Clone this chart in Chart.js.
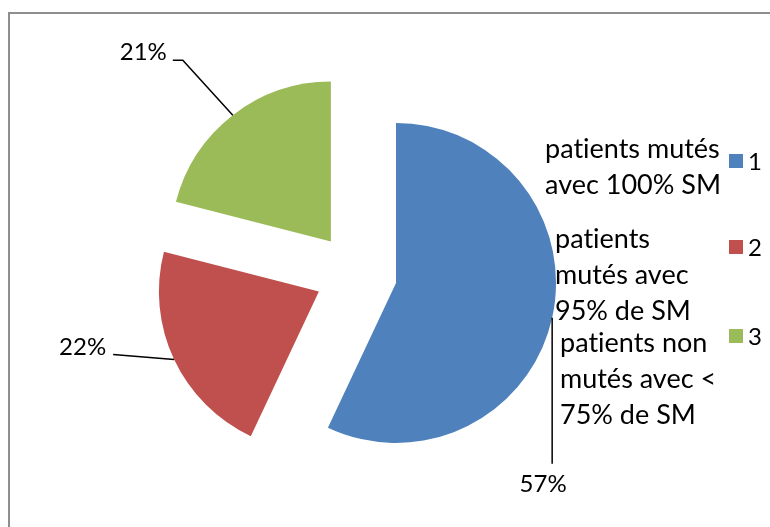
<!DOCTYPE html>
<html>
<head>
<meta charset="utf-8">
<script src="https://cdn.jsdelivr.net/npm/chart.js@4.4.0/dist/chart.umd.min.js"></script>
<style>
  html, body { margin: 0; padding: 0; background: #fff; }
  #wrap { position: relative; width: 770px; height: 527px; overflow: hidden; font-family: Lato, "Open Sans", sans-serif; font-variant-ligatures: none; }
  #frame { position: absolute; left: 8px; top: 12px; right: -10px; bottom: -10px; border-left: 2px solid #8e8e8e; border-top: 2px solid #8e8e8e; }
  #pie { position: absolute; left: 0; top: 0; }
  .note { position: absolute; font-size: 27px; line-height: 36px; color: #000; white-space: nowrap; }
  .leg { position: absolute; font-size: 24px; color: #000; }
  .leg span { position: absolute; left: 0; top: 0; width: 14px; height: 14px; }
  .leg b { position: absolute; left: 19px; top: -8px; font-weight: normal; }
</style>
</head>
<body>
<div id="wrap">
  <div id="frame"></div>
  <canvas id="pie" width="770" height="527"></canvas>
</div>
<script>
// données du graphique
const categories = ['1', '2', '3'];
const shares = [57, 22, 21];
const descriptions = [
  ['patients mutés', 'avec 100% SM'],
  ['patients', 'mutés avec', '95% de SM'],
  ['patients non', 'mutés avec <', '75% de SM']
];

const colors = ['#4F81BD', '#C0504D', '#9BBB59'];
// éclatement des parts (px), appliqué au dessin sans agrandir le rayon
const shifts = [41, 41, 41];

// positions des zones de texte et de la légende
const notePos = [[545, 130], [555, 220], [560, 324]];
const legendTop = [154, 240, 329];

// lignes de rappel : points relatifs au point d'ancrage sur l'arc, puis position du texte
const leaders = [
  { pts: [[0, 0], [0, 146]], text: [-9, 174], align: 'center' },
  { pts: [[0, 0], [-61, -5]], text: [-68, -5], align: 'right' },
  { pts: [[0, 0], [-50, -55], [-60, -55]], text: [-66, -55], align: 'right' }
];

// décale chaque part le long de sa bissectrice
const explode = {
  id: 'explode',
  afterDatasetUpdate(chart, args) {
    args.meta.data.forEach((arc, i) => {
      if (arc.$exploded) return;
      const base = arc.draw;
      arc.draw = function (ctx, area) {
        const mid = (this.startAngle + this.endAngle) / 2;
        ctx.save();
        ctx.translate(Math.cos(mid) * shifts[i], Math.sin(mid) * shifts[i]);
        base.call(this, ctx, area);
        ctx.restore();
      };
      arc.$exploded = true;
    });
  }
};

const pctLabels = {
  id: 'pctLabels',
  afterDatasetsDraw(chart) {
    const ctx = chart.ctx;
    const meta = chart.getDatasetMeta(0);
    meta.data.forEach((arc, i) => {
      const p = arc.getProps(['x', 'y', 'startAngle', 'endAngle', 'outerRadius'], true);
      const mid = (p.startAngle + p.endAngle) / 2;
      const r = p.outerRadius + shifts[i];
      const ax = p.x + Math.cos(mid) * r;
      const ay = p.y + Math.sin(mid) * r;
      const l = leaders[i];
      ctx.save();
      ctx.strokeStyle = '#000';
      ctx.lineWidth = 1.5;
      ctx.beginPath();
      l.pts.forEach((pt, k) => {
        if (k === 0) ctx.moveTo(ax + pt[0], ay + pt[1]);
        else ctx.lineTo(ax + pt[0], ay + pt[1]);
      });
      ctx.stroke();
      ctx.fillStyle = '#000';
      ctx.font = '24px Lato, "Open Sans", sans-serif';
      ctx.textAlign = l.align;
      ctx.textBaseline = 'alphabetic';
      ctx.fillText(shares[i] + '%', ax + l.text[0], ay + l.text[1]);
      ctx.restore();
    });
  }
};

new Chart(document.getElementById('pie'), {
  type: 'pie',
  data: {
    labels: categories,
    datasets: [{
      data: shares,
      backgroundColor: colors,
      borderWidth: 0,
      offset: 0,
      hoverOffset: 0
    }]
  },
  options: {
    responsive: false,
    animation: false,
    layout: { padding: { top: 114, bottom: 93, left: 196, right: 254 } },
    plugins: {
      legend: { display: false },
      tooltip: { enabled: false }
    }
  },
  plugins: [explode, pctLabels]
});

// zones de texte et légende
const wrap = document.getElementById('wrap');
descriptions.forEach((lines, i) => {
  const d = document.createElement('div');
  d.className = 'note';
  d.style.left = notePos[i][0] + 'px';
  d.style.top = notePos[i][1] + 'px';
  d.innerHTML = lines.map(s => s.replace('<', '&lt;')).join('<br>');
  wrap.appendChild(d);
});
categories.forEach((c, i) => {
  const g = document.createElement('div');
  g.className = 'leg';
  g.style.left = '729px';
  g.style.top = legendTop[i] + 'px';
  g.innerHTML = '<span style="background:' + colors[i] + '"></span><b>' + c + '</b>';
  wrap.appendChild(g);
});
</script>
</body>
</html>
